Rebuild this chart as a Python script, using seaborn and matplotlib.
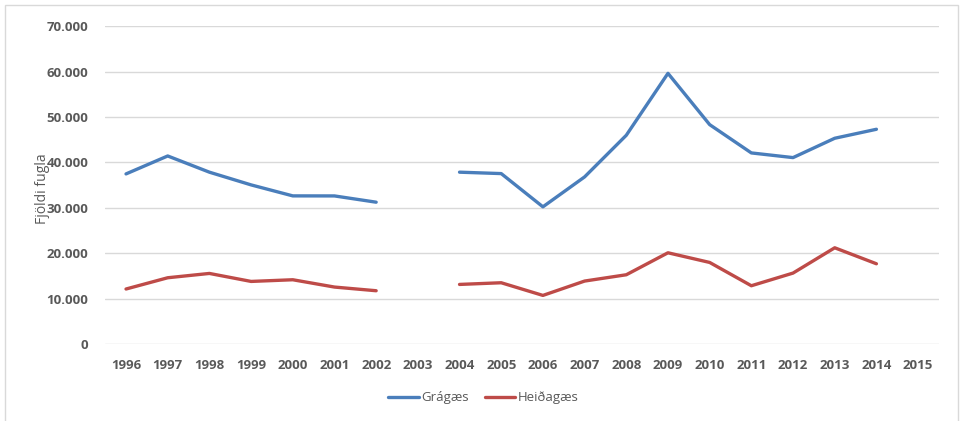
import numpy as np
import pandas as pd
import matplotlib
matplotlib.use("Agg")
import matplotlib.pyplot as plt
from matplotlib.patches import Rectangle
import seaborn as sns

# --- data ------------------------------------------------------------------
years = list(range(1996, 2016))
gragaes = [37450, 41400, 37830, 35030, 32610, 32600, 31220, np.nan, 37830, 37520,
           30200, 36790, 45960, 59600, 48300, 42070, 41040, 45300, 47280, np.nan]
heidagaes = [12100, 14580, 15530, 13770, 14140, 12530, 11720, np.nan, 13110, 13480,
             10690, 13850, 15240, 20080, 17950, 12820, 15610, 21180, 17660, np.nan]
series_names = ["Grágæs", "Heiðagæs"]
colors = ["#4A7EBB", "#BE4B48"]
y_ticks = list(range(0, 70001, 10000))

# long-form table; "seg" splits each line at the missing year so it is not bridged
rows = []
for name, vals in zip(series_names, [gragaes, heidagaes]):
    seg = 0
    for yr, v in zip(years, vals):
        if np.isnan(v):
            seg += 1
            continue
        rows.append({"year": yr, "count": v, "series": name, "seg": f"{name}-{seg}"})
df = pd.DataFrame(rows)

sns.set_theme(style="white")
plt.rcParams["font.family"] = ["Open Sans", "DejaVu Sans"]

fig = plt.figure(figsize=(9.65, 4.21), dpi=100)
ax = fig.add_axes([0.109, 0.183, 0.864, 0.755])

sns.lineplot(data=df, x="year", y="count", hue="series", units="seg", estimator=None,
             palette=dict(zip(series_names, colors)), linewidth=2.4, ax=ax, legend=False)

ax.set_xlim(years[0] - 0.5, years[-1] + 0.5)
ax.set_ylim(0, 70000)
ax.set_xticks(years)
ax.set_xticklabels([str(y) for y in years], fontweight="bold", fontsize=9.5)
ax.set_yticks(y_ticks)
ax.set_yticklabels([f"{v:,.0f}".replace(",", ".") for v in y_ticks],
                   fontweight="bold", fontsize=9.5)
ax.grid(axis="y", color="#D9D9D9", linewidth=1)
ax.set_axisbelow(True)
for s in ax.spines.values():
    s.set_visible(False)
ax.tick_params(length=0, colors="#595959")
ax.tick_params(axis="y", pad=12)
ax.tick_params(axis="x", pad=11)
ax.set_xlabel("")
ax.set_ylabel("Fjöldi fugla", fontsize=10, color="#595959")
ax.yaxis.set_label_coords(-0.066, 0.49)

handles = [plt.Line2D([], [], color=c, linewidth=2.4) for c in colors]
leg = fig.legend(handles, series_names, loc="center", bbox_to_anchor=(0.501, 0.055), ncol=2,
                 frameon=False, fontsize=9.5, handlelength=2.3, handletextpad=0.2,
                 columnspacing=1.2)
for t in leg.get_texts():
    t.set_color("#595959")

fig.patches.append(Rectangle((0.005, -0.02), 0.988, 1.008, transform=fig.transFigure,
                             fill=False, edgecolor="#D9D9D9", linewidth=1))

fig.savefig("out.png", dpi=100)
